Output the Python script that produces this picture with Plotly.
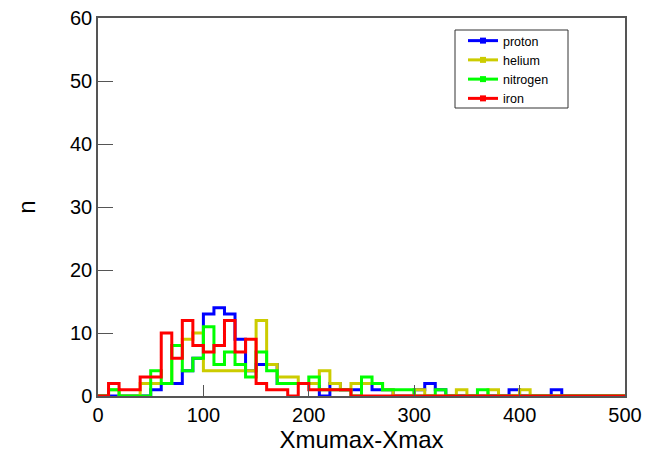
import plotly.graph_objects as go

# Histogram binning: 50 bins of width 10 between 0 and 500
bin_width = 10
n_bins = 50
edges = [i * bin_width for i in range(n_bins + 1)]

proton = [0, 0, 0, 0, 0, 1, 2, 2, 4, 6,
          13, 14, 13, 9, 4, 5, 5, 2, 2, 2,
          2, 0, 2, 1, 1, 2, 1, 1, 0, 0,
          1, 2, 1, 0, 0, 0, 0, 0, 0, 1,
          0, 0, 0, 1, 0, 0, 0, 0, 0, 0]
helium = [0, 1, 0, 0, 2, 2, 2, 8, 9, 10,
          4, 4, 4, 4, 4, 12, 5, 3, 3, 2,
          2, 4, 2, 1, 2, 2, 2, 1, 0, 0,
          1, 0, 0, 0, 1, 0, 0, 1, 0, 0,
          1, 0, 0, 0, 0, 0, 0, 0, 0, 0]
nitrogen = [0, 1, 0, 0, 0, 4, 2, 8, 4, 6,
            11, 5, 7, 5, 3, 7, 4, 2, 2, 2,
            3, 1, 1, 1, 0, 3, 2, 1, 1, 1,
            0, 0, 1, 0, 0, 0, 1, 0, 0, 0,
            0, 0, 0, 0, 0, 0, 0, 0, 0, 0]
iron = [0, 2, 1, 1, 3, 3, 10, 6, 12, 8,
        7, 8, 12, 7, 9, 2, 1, 1, 0, 2,
        1, 1, 1, 1, 0, 0, 0, 0, 0, 0,
        0, 0, 0, 0, 0, 0, 0, 0, 0, 0,
        0, 0, 0, 0, 0, 0, 0, 0, 0, 0]

series = [
    ("proton", proton, "#0000ff"),
    ("helium", helium, "#cccc00"),
    ("nitrogen", nitrogen, "#00ff00"),
    ("iron", iron, "#ff0000"),
]

x_ticks = [0, 100, 200, 300, 400, 500]
y_ticks = [0, 10, 20, 30, 40, 50, 60]

fig = go.Figure()

for name, counts, color in series:
    # step outline of the histogram
    fig.add_trace(go.Scatter(
        x=edges,
        y=counts + [counts[-1]],
        mode="lines",
        line=dict(color=color, width=3, shape="hv"),
        showlegend=False,
        hoverinfo="skip",
    ))

for name, counts, color in series:
    # legend entries drawn as line with a square marker
    fig.add_trace(go.Scatter(
        x=[None], y=[None],
        mode="lines+markers",
        name=name,
        line=dict(color=color, width=3),
        marker=dict(color=color, symbol="square", size=6),
    ))

axis_color = "#555555"
font_family = "Liberation Sans, Arial, sans-serif"

# frame around the legend
fig.add_shape(
    type="rect", xref="paper", yref="paper",
    x0=(455 - 98) / 527, x1=(568 - 98) / 527,
    y0=(396 - 108) / 378, y1=(396 - 30) / 378,
    line=dict(color="#333333", width=1),
    fillcolor="rgba(0,0,0,0)",
    layer="above",
)

fig.update_layout(
    width=647,
    height=456,
    margin=dict(l=98, r=22, t=18, b=60),
    paper_bgcolor="white",
    plot_bgcolor="white",
    font=dict(family=font_family, color="black", size=20),
    showlegend=True,
    legend=dict(
        x=(463 - 98) / 527, y=(396 - 26) / 378, xanchor="left", yanchor="top",
        bgcolor="rgba(0,0,0,0)",
        borderwidth=0,
        font=dict(family=font_family, size=12.5, color="black"),
        itemwidth=30,
        tracegroupgap=0,
    ),
    xaxis=dict(
        range=[0, 500],
        tickvals=x_ticks,
        ticktext=[str(v) for v in x_ticks],
        ticks="inside", ticklen=11, tickwidth=1, tickcolor=axis_color,
        showline=True, linecolor=axis_color, linewidth=1.5, mirror=True,
        showgrid=False, zeroline=False,
        tickfont=dict(size=20),
        automargin=False,
        title=dict(text="Xmumax-Xmax", font=dict(size=24), standoff=6),
    ),
    yaxis=dict(
        range=[0, 60],
        tickvals=y_ticks,
        ticktext=[str(v) for v in y_ticks],
        ticks="inside", ticklen=15, tickwidth=1, tickcolor=axis_color,
        showline=True, linecolor=axis_color, linewidth=1.5, mirror=True,
        showgrid=False, zeroline=False,
        tickfont=dict(size=20),
        automargin=False,
        title=dict(text="n", font=dict(size=24), standoff=28),
    ),
)

fig.write_html("out.html")
